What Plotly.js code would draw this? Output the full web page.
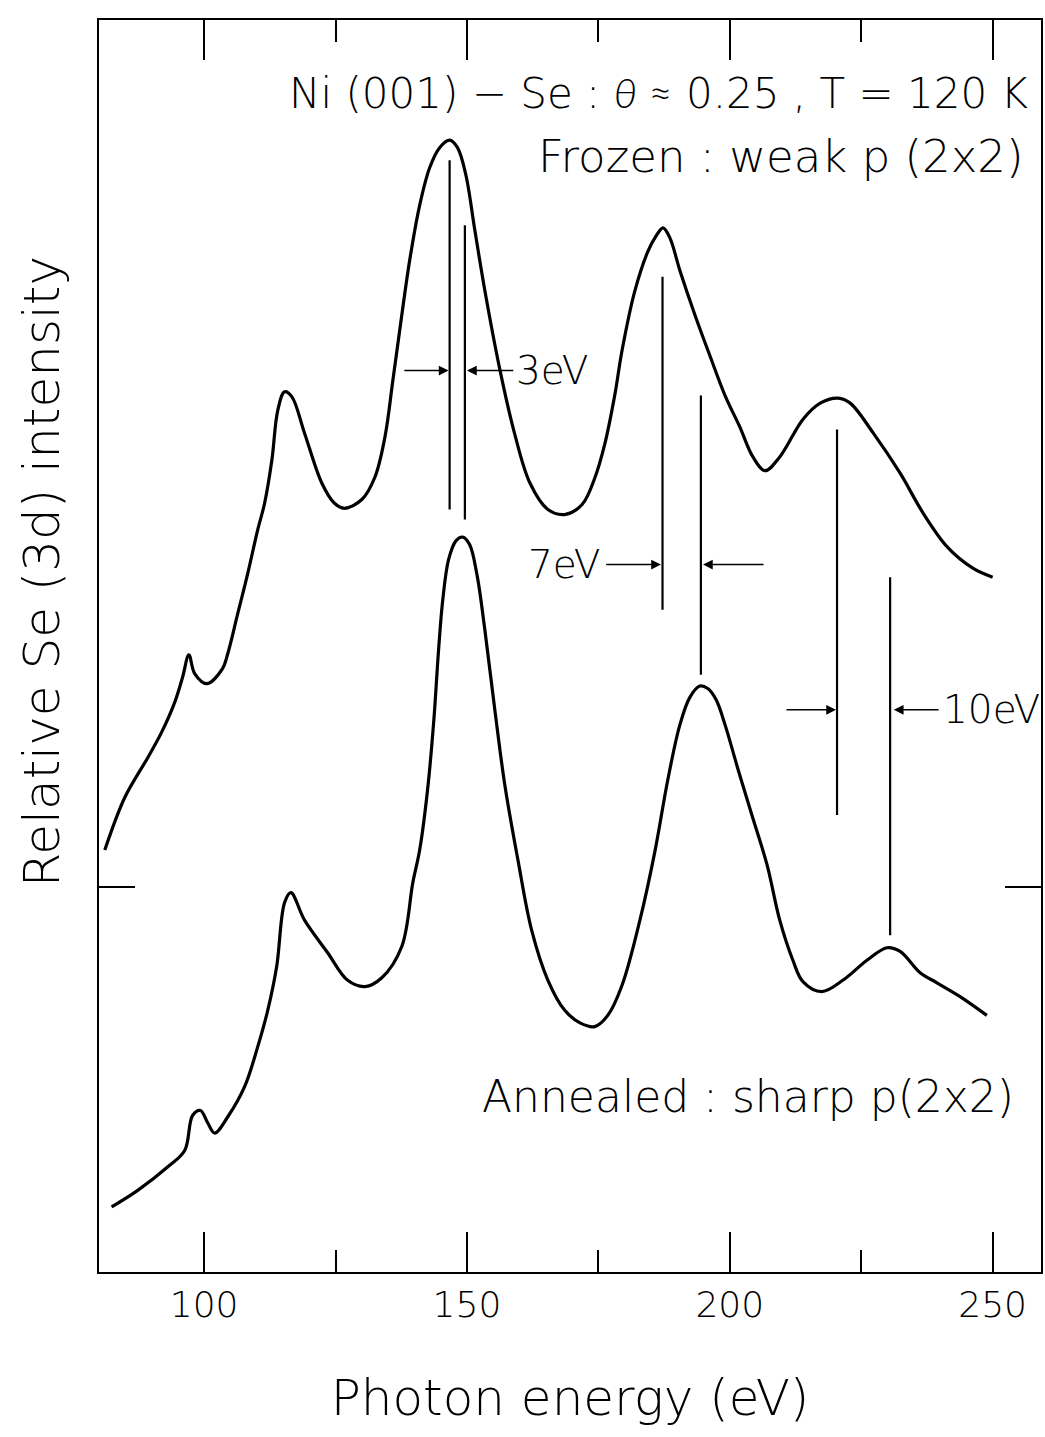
<!DOCTYPE html>
<html>
<head>
<meta charset="utf-8">
<script src="https://cdn.plot.ly/plotly-3.0.1.min.js"></script>
<style>html,body{margin:0;padding:0;background:#fff;} #chart{width:1045px;height:1437px;}</style>
</head>
<body>
<div id="chart"></div>
<script>
// ---- data ----
const energyFrozen = [81.1,84.9,89.3,91.9,94.4,95.9,97.1,98.2,100.5,103.5,104.5,106.4,108.3,110.2,111.5,112.9,114.0,115.3,116.7,119.1,122.4,124.8,126.7,130.0,132.5,134.4,135.9,137.2,139.1,141.0,142.9,144.8,146.7,148.2,149.8,151.5,153.4,156.3,159.1,162.0,165.4,168.6,171.9,174.3,176.2,178.1,179.5,181.9,184.4,185.9,187.3,188.6,190.5,193.4,196.2,199.1,201.9,204.4,206.7,209.5,213.9,217.2,220.6,222.9,227.3,232.4,236.8,241.4,246.3,250.0];
const intensityFrozen = [33.7,37.9,41.1,43.1,45.5,47.5,49.3,47.8,47.0,48.2,49.4,52.6,55.8,59.3,61.4,64.9,68.8,70.3,69.9,67.0,63.0,61.4,61.0,61.7,63.5,66.7,71.2,75.2,80.8,85.2,88.2,89.8,90.4,89.8,87.6,83.2,78.4,72.0,66.9,63.0,60.9,60.5,61.3,63.4,66.1,70.0,73.6,78.3,81.5,82.7,83.4,82.6,80.0,76.4,73.2,70.0,67.5,65.1,64.0,65.1,68.1,69.4,69.8,69.4,67.0,63.8,60.6,57.9,56.2,55.5];

const energyAnnealed = [82.4,87.3,93.1,96.3,97.8,99.3,100.7,102.0,104.5,107.7,110.2,112.1,113.8,115.3,116.5,119.1,123.5,127.3,130.6,133.8,137.6,139.7,141.0,142.5,143.7,144.6,145.4,146.5,147.9,149.2,150.5,151.9,153.4,155.3,157.2,159.7,162.3,165.4,168.6,171.5,174.3,176.8,179.5,182.9,185.8,188.2,190.5,192.4,194.3,195.8,197.4,199.1,201.6,204.2,207.1,209.5,212.0,213.9,217.5,221.5,226.1,229.9,232.4,236.2,239.4,243.8,248.9];
const intensityAnnealed = [5.2,6.5,8.4,9.7,12.5,12.9,11.9,11.1,12.4,14.8,18.0,20.9,24.4,29.5,30.3,28.1,25.5,23.3,22.8,23.5,26.0,31.1,33.7,38.5,44.1,49.7,53.7,56.9,58.4,58.7,58.1,55.7,51.3,44.9,38.9,32.9,27.3,23.3,20.9,19.9,19.6,20.5,22.9,28.1,33.7,39.3,43.7,45.9,46.8,46.6,45.7,43.7,40.1,36.5,32.5,28.1,24.9,23.2,22.4,23.3,24.9,25.9,25.6,23.9,23.1,22.0,20.5];

// peak marker lines (energy, top, bottom)
const peakLineEnergy = [146.7,149.6,187.2,194.5,220.4,230.5];
const peakLineTop    = [88.8,83.6,79.5,70.0,67.3,55.5];
const peakLineBottom = [60.9,60.1,52.9,47.7,36.5,26.9];

// shift arrows: [tail, head] pairs at a level
const shiftLabels   = ["3eV","7eV","10eV"];
const shiftLevel    = [72.0,56.5,44.9];
const leftArrowTail = [137.8,176.2,210.5];
const leftArrowHead = [146.5,186.9,220.2];
const rightArrowTail= [159.1,206.7,240.0];
const rightArrowHead= [150.0,194.9,231.2];
const shiftLabelX   = [159.1,175.5,240.4];
const shiftLabelAnchor = ["left","right","left"];

const xTickVals  = [100,150,200,250];
const xTickText  = ["100","150","200","250"];
const xMinorVals = [125,175,225];
const yTickVals  = [30.75];

const titleText = "Ni (001) − Se : <span style=\"font-family:Lato;font-weight:300\"><i>θ</i> ≈</span> 0.25 , T = 120 K";
const frozenText = "Frozen : weak p (2x2)";
const annealedText = "Annealed : sharp p(2x2)";
const xTitle = "Photon energy (eV)";
const yTitle = "Relative Se (3d) intensity";

// ---- build ----
const FONT = "'DejaVu Sans', sans-serif";
const W = 300;
const traces = [];
traces.push({x: energyFrozen, y: intensityFrozen, mode:'lines', line:{color:'#000', width:3.2, shape:'spline', smoothing:1.0}, hoverinfo:'skip'});
traces.push({x: energyAnnealed, y: intensityAnnealed, mode:'lines', line:{color:'#000', width:3.2, shape:'spline', smoothing:1.0}, hoverinfo:'skip'});
peakLineEnergy.forEach((e,i)=>{
  traces.push({x:[e,e], y:[peakLineBottom[i], peakLineTop[i]], mode:'lines', line:{color:'#000', width:2.2}, hoverinfo:'skip'});
});

const annotations = [];
shiftLabels.forEach((lab,i)=>{
  annotations.push({x:leftArrowHead[i], y:shiftLevel[i], ax:leftArrowTail[i], ay:shiftLevel[i], axref:'x', ayref:'y', xref:'x', yref:'y', text:'', showarrow:true, arrowhead:2, arrowsize:1.3, arrowwidth:1.5, arrowcolor:'#000', standoff:0, startstandoff:0});
  annotations.push({x:rightArrowHead[i], y:shiftLevel[i], ax:rightArrowTail[i], ay:shiftLevel[i], axref:'x', ayref:'y', xref:'x', yref:'y', text:'', showarrow:true, arrowhead:2, arrowsize:1.3, arrowwidth:1.5, arrowcolor:'#000', standoff:0, startstandoff:0});
  annotations.push({x:shiftLabelX[i], y:shiftLevel[i], xref:'x', yref:'y', text:lab, showarrow:false, xanchor:shiftLabelAnchor[i], yanchor:'middle', font:{family:FONT, size:39, color:'#000', weight:W}, borderpad:0});
});
annotations.push({x:257.1, y:94.2, xref:'x', yref:'y', text:titleText, showarrow:false, xanchor:'right', yanchor:'middle', font:{family:FONT, size:42, color:'#000', weight:W}, borderpad:0});
annotations.push({x:256.2, y:89.1, xref:'x', yref:'y', text:frozenText, showarrow:false, xanchor:'right', yanchor:'middle', font:{family:FONT, size:45, color:'#000', weight:W}, borderpad:0});
annotations.push({x:254.3, y:14.0, xref:'x', yref:'y', text:annealedText, showarrow:false, xanchor:'right', yanchor:'middle', font:{family:FONT, size:44, color:'#000', weight:W}, borderpad:0});
// y-axis title placed as rotated paper annotation (centred as in the original)
annotations.push({x:-0.0605, y:0.559, xref:'paper', yref:'paper', text:yTitle, textangle:-90, showarrow:false, xanchor:'center', yanchor:'middle', font:{family:FONT, size:50, color:'#000', weight:W}, borderpad:0});

const layout = {
  width:1045, height:1437,
  margin:{l:99, r:4, t:20, b:165},
  paper_bgcolor:'#fff', plot_bgcolor:'#fff',
  showlegend:false,
  xaxis:{
    range:[80,259.2], showgrid:false, zeroline:false,
    showline:true, linecolor:'#000', linewidth:2, mirror:'ticks',
    ticks:'inside', ticklen:40, tickwidth:2, tickcolor:'#000',
    tickmode:'array', tickvals:xTickVals, ticktext:xTickText,
    minor:{tickmode:'array', tickvals:xMinorVals, ticks:'inside', ticklen:22, tickwidth:2, tickcolor:'#000'},
    tickfont:{family:FONT, size:36, color:'#000', weight:W},
    title:{text:xTitle, font:{family:FONT, size:50, color:'#000', weight:W}, standoff:56},
    fixedrange:true
  },
  yaxis:{
    range:[0,100], showgrid:false, zeroline:false,
    showline:true, linecolor:'#000', linewidth:2, mirror:'ticks',
    ticks:'inside', ticklen:36, tickwidth:2, tickcolor:'#000',
    tickmode:'array', tickvals:yTickVals, showticklabels:false,
    fixedrange:true
  },
  annotations: annotations
};

Plotly.newPlot('chart', traces, layout, {staticPlot:true});
</script>
</body>
</html>
